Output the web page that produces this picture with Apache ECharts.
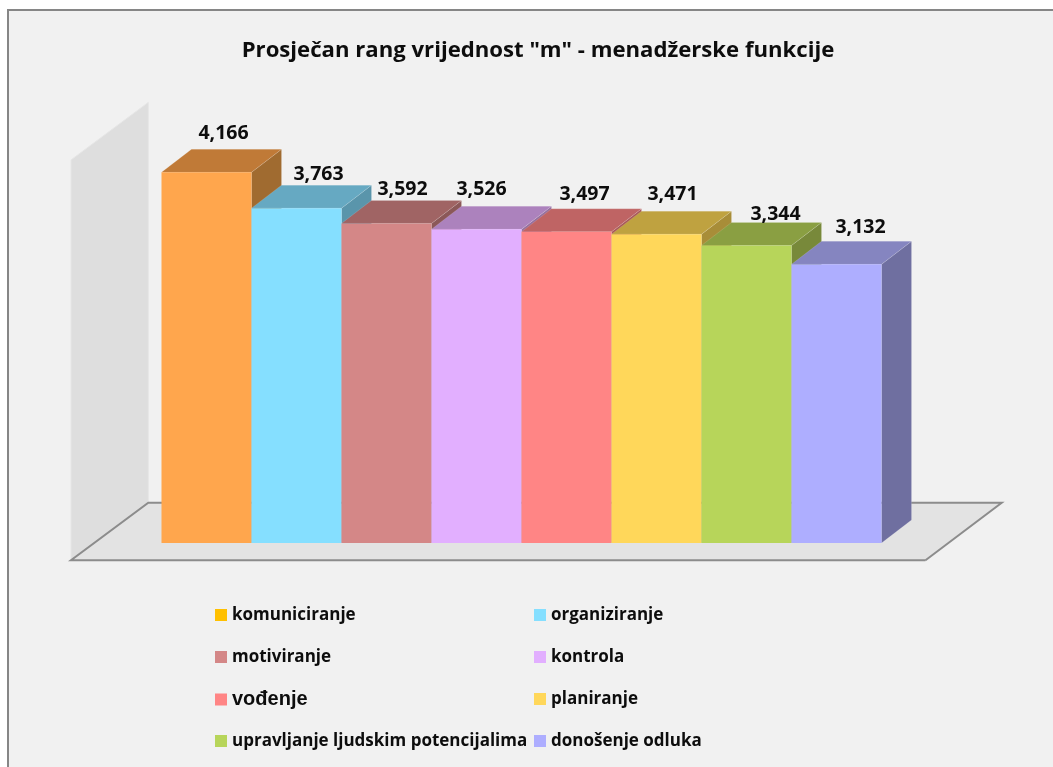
<!DOCTYPE html>
<html>
<head>
<meta charset="utf-8">
<title>Prosječan rang</title>
<style>
  html, body { margin: 0; padding: 0; background: #fff; }
  #chart { width: 1053px; height: 767px; }
</style>
<script src="https://cdn.jsdelivr.net/npm/echarts@6/dist/echarts.min.js"></script>
</head>
<body>
<div id="chart"></div>
<script>
const titleText = 'Prosječan rang vrijednost "m" - menadžerske funkcije'
const categories = ['komuniciranje', 'organiziranje', 'motiviranje', 'kontrola', 'vođenje', 'planiranje', 'upravljanje ljudskim potencijalima', 'donošenje odluka']
const values = [4.166, 3.763, 3.592, 3.526, 3.497, 3.471, 3.344, 3.132]

// front / top / side face of every column
const frontColors = ['#ffa64d', '#85dfff', '#d48787', '#e2afff', '#ff8585', '#ffd75a', '#b7d55a', '#aeaeff']
const topColors = ['#c07a37', '#66a9c2', '#a06464', '#ac82bd', '#bf6464', '#bfa240', '#8a9f42', '#8585c0']
const sideColors = ['#a06b30', '#5a95ab', '#8b5858', '#96709f', '#a85858', '#a88d38', '#78893a', '#6f6fa0']
// the legend swatch of the first item is not the same orange as its column
const legendColors = ['#ffc000', '#85dfff', '#d48787', '#e2afff', '#ff8585', '#ffd75a', '#b7d55a', '#aeaeff']

// label placement relative to the top centre of the column
const labelDx = [17, 22, 16, 5, 18, 16, 29, 24]
const labelDy = [-38.5, -34, -33.5, -40, -37, -40, -31, -36.5]
// legend slots: marker left, row top
const legendLeft = [215, 534, 215, 534, 215, 534, 215, 534]
const legendTop = [606.5, 606.5, 648.5, 648.5, 689.5, 690.5, 732.5, 732.5]

const depthX = 30
const depthY = 23
const fontName = '"Open Sans", "Noto Sans", sans-serif'

function renderColumn (params, api) {
  const i = api.value(0)
  const top = api.coord([i, api.value(1)])
  const bottom = api.coord([i, 0])
  const w = api.size([1, 0])[0]
  const x0 = top[0] - w / 2
  const x1 = top[0] + w / 2
  const edge = { stroke: 'rgba(255,255,255,0.12)', lineWidth: 1 }
  return {
    type: 'group',
    children: [
      {
        type: 'polygon',
        shape: { points: [[x1, top[1]], [x1 + depthX, top[1] - depthY], [x1 + depthX, bottom[1] - depthY], [x1, bottom[1]]] },
        style: Object.assign({ fill: sideColors[i] }, edge)
      },
      {
        type: 'polygon',
        shape: { points: [[x0, top[1]], [x0 + depthX, top[1] - depthY], [x1 + depthX, top[1] - depthY], [x1, top[1]]] },
        style: Object.assign({ fill: topColors[i] }, edge)
      },
      {
        type: 'rect',
        shape: { x: x0, y: top[1], width: w, height: bottom[1] - top[1] },
        style: { fill: frontColors[i] }
      },
      {
        type: 'text',
        z2: 50,
        style: {
          x: top[0] + labelDx[i],
          y: top[1] + labelDy[i],
          text: values[i].toFixed(3).replace('.', ','),
          align: 'center',
          verticalAlign: 'middle',
          fill: '#0d0d0d',
          font: 'bold 19.5px ' + fontName
        }
      }
    ]
  }
}

// side wall and floor, hung on the value axis so they follow the scale
function renderFloor (params, api) {
  const zero = api.coord([0, 0])[1]
  const maxY = api.coord([0, 4.5])[1]
  const gridLeft = params.coordSys.x
  const gridRight = params.coordSys.x + params.coordSys.width
  const frontY = zero + 17.3
  const backY = frontY - 57.5
  const wallH = zero - maxY
  const fx0 = gridLeft - 90.5
  const bx0 = fx0 + 77.3
  const fx1 = gridRight + 44
  const bx1 = fx1 + 76.2
  return {
    type: 'group',
    children: [
      {
        type: 'polygon',
        shape: { points: [[fx0, frontY], [fx0, frontY - wallH], [bx0, backY - wallH], [bx0, backY]] },
        style: { fill: '#dedede', stroke: '#e6e6e6', lineWidth: 1 }
      },
      {
        type: 'polygon',
        shape: { points: [[fx0, frontY], [bx0, backY], [bx1, backY], [fx1, frontY]] },
        style: { fill: '#e3e3e3' }
      },
      {
        type: 'polyline',
        shape: { points: [[fx1, frontY], [fx0, frontY], [bx0, backY], [bx1, backY], [fx1, frontY]] },
        style: { stroke: '#8c8c8c', lineWidth: 2, fill: null }
      }
    ]
  }
}

const chart = echarts.init(document.getElementById('chart'))

const series = [{
  name: 'floor',
  type: 'custom',
  renderItem: renderFloor,
  silent: true,
  data: [[0, 0]],
  z: 1
}]
categories.forEach((name, i) => {
  series.push({
    name,
    type: 'custom',
    renderItem: renderColumn,
    data: [[i, values[i]]],
    encode: { x: 0, y: 1 },
    itemStyle: { color: frontColors[i] },
    animation: false,
    z: 2
  })
})

const legends = categories.map((name, i) => ({
  left: legendLeft[i],
  top: legendTop[i],
  padding: 0,
  itemWidth: 12,
  itemHeight: 12,
  itemGap: 0,
  selectedMode: false,
  icon: 'rect',
  data: [{ name, itemStyle: { color: legendColors[i] } }],
  textStyle: name === 'vođenje'
    ? { color: '#0d0d0d', fontFamily: '"Liberation Sans", Arial, sans-serif', fontWeight: 'bold', fontSize: 20, padding: [0, 0, 8, 0] }
    : { color: '#0d0d0d', fontFamily: fontName, fontWeight: 'bold', fontSize: 17 }
}))

chart.setOption({
  animation: false,
  title: {
    text: titleText,
    left: 533,
    top: 35,
    textAlign: 'center',
    textStyle: { color: '#0d0d0d', fontFamily: fontName, fontWeight: 'bold', fontSize: 22.15 }
  },
  graphic: [
    { type: 'rect', z: -10, shape: { x: 8, y: 10, width: 1045, height: 757 }, style: { fill: '#f1f1f1' } },
    { type: 'polyline', z: -9, shape: { points: [[8, 767], [8, 10], [1053, 10]] }, style: { stroke: '#868686', lineWidth: 2, fill: null } }
  ],
  legend: legends,
  grid: { left: 161.5, top: 142.6, width: 720, height: 400.4 },
  xAxis: { type: 'category', data: categories, show: false },
  yAxis: { type: 'value', min: 0, max: 4.5, show: false },
  series
})
</script>
</body>
</html>
